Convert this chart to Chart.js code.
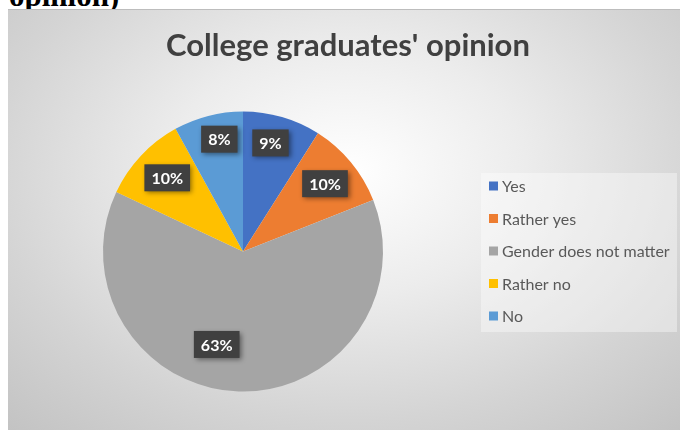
<!DOCTYPE html>
<html>
<head>
<meta charset="utf-8">
<script src="https://cdn.jsdelivr.net/npm/chart.js@4"></script>
<style>
  body { margin: 0; width: 680px; height: 430px; overflow: hidden; background: #fff; position: relative; }
  #caption { position: absolute; left: 9px; top: -19px; font: bold 31px "Liberation Serif", serif; line-height: 30px; color: #000; white-space: nowrap; }
  #frame {
    position: absolute; left: 8px; top: 9px; width: 680px; height: 421px; overflow: hidden;
    border-top: 1px solid #bdbdbd;
    background: radial-gradient(ellipse 75% 85% at 50% 38%, #ffffff 0%, #ececec 35%, #d4d4d4 70%, #c2c2c2 100%);
  }
  canvas { display: block; }
</style>
</head>
<body>
<div id="caption">opinion)</div>
<div id="frame"><canvas id="pie" width="680" height="440"></canvas></div>
<script>
const categories = ['Yes', 'Rather yes', 'Gender does not matter', 'Rather no', 'No'];
const shares = [9, 10, 63, 10, 8];
const sliceColors = ['#4472C4', '#ED7D31', '#A5A5A5', '#FFC000', '#5B9BD5'];
const chartTitle = "College graduates' opinion";

// percentage badges: distance from centre (fraction of radius) and a small turn off the slice middle (deg)
const badgeRadius = [0.80, 0.76, 0.69, 0.755, 0.82];
const badgeTurn = [-2, 0, 14, 1, 2.5];

// the pie sits in the left part of the frame, the title stays centred over the whole width
const plotArea = {
    id: 'plotArea',
    afterLayout(chart) {
        const area = chart.chartArea;
        area.left = 10;
        area.right = 460;
        area.width = area.right - area.left;
    }
};

// dark value badges with a soft drop shadow
const badgePlugin = {
    id: 'badges',
    afterDatasetsDraw(chart) {
        const ctx = chart.ctx;
        const meta = chart.getDatasetMeta(0);
        const values = chart.data.datasets[0].data;
        const total = values.reduce((a, b) => a + b, 0);
        meta.data.forEach((arc, i) => {
            const p = arc.getProps(['x', 'y', 'startAngle', 'endAngle', 'outerRadius'], true);
            const a = (p.startAngle + p.endAngle) / 2 + badgeTurn[i] * Math.PI / 180;
            const r = p.outerRadius * badgeRadius[i];
            const cx = p.x + r * Math.cos(a);
            const cy = p.y + r * Math.sin(a);
            const text = Math.round(values[i] / total * 100) + '%';
            ctx.save();
            ctx.font = 'bold 16px Lato';
            const w = ctx.measureText(text).width + 14;
            const h = 27;
            ctx.shadowColor = 'rgba(0,0,0,0.45)';
            ctx.shadowBlur = 5;
            ctx.shadowOffsetX = 2;
            ctx.shadowOffsetY = 2;
            ctx.fillStyle = '#404040';
            ctx.fillRect(cx - w / 2, cy - h / 2, w, h);
            ctx.restore();
            ctx.save();
            ctx.font = 'bold 16px Lato';
            ctx.fillStyle = '#ffffff';
            ctx.textAlign = 'center';
            ctx.textBaseline = 'middle';
            ctx.fillText(text, cx, cy + 1);
            ctx.restore();
        });
    }
};

// legend panel on the right, built from the chart's labels and colours
const legendPanel = {
    id: 'legendPanel',
    afterDraw(chart) {
        const ctx = chart.ctx;
        const ds = chart.data.datasets[0];
        ctx.save();
        ctx.fillStyle = 'rgba(255,255,255,0.38)';
        ctx.fillRect(473, 163, 196, 159);
        ctx.font = '16px Lato';
        ctx.textBaseline = 'middle';
        chart.data.labels.forEach((label, i) => {
            const y = 176 + i * 32.5;
            ctx.fillStyle = ds.backgroundColor[i];
            ctx.fillRect(481, y - 4.5, 9, 9);
            ctx.fillStyle = '#595959';
            ctx.fillText(label, 494, y + 1);
        });
        ctx.restore();
    }
};

new Chart(document.getElementById('pie'), {
    type: 'pie',
    data: {
        labels: categories,
        datasets: [{
            data: shares,
            backgroundColor: sliceColors,
            borderWidth: 0
        }]
    },
    options: {
        responsive: false,
        animation: false,
        radius: 140,
        layout: { padding: { left: 0, right: 0, top: 0, bottom: 17.4 } },
        plugins: {
            legend: { display: false },
            tooltip: { enabled: false },
            title: {
                display: true,
                text: chartTitle,
                color: '#404040',
                font: { family: 'Lato', size: 31, weight: 'bold' },
                padding: { top: 17.2, bottom: 6 }
            }
        }
    },
    plugins: [plotArea, badgePlugin, legendPanel]
});
</script>
</body>
</html>
